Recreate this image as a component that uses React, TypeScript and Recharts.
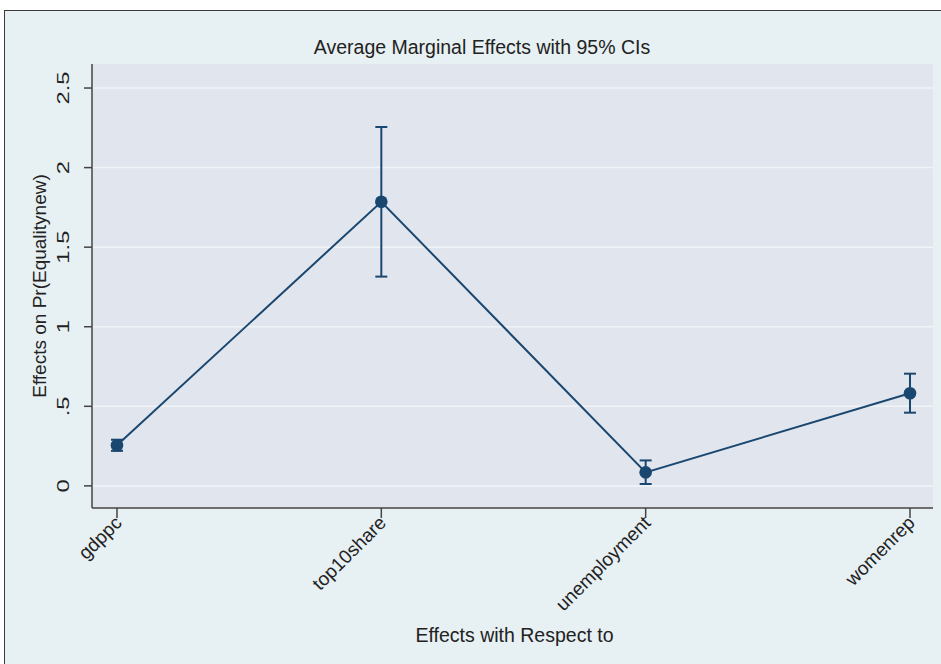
import { CartesianGrid, ComposedChart, ErrorBar, Line, XAxis, YAxis } from 'recharts';

const categories = ['gdppc', 'top10share', 'unemployment', 'womenrep'];
const estimates = [0.255, 1.785, 0.085, 0.582];
const ciLow = [0.22, 1.315, 0.012, 0.46];
const ciHigh = [0.29, 2.255, 0.16, 0.705];
const yTicks = [0, 0.5, 1, 1.5, 2, 2.5];
const yTickLabels = ['0', '.5', '1', '1.5', '2', '2.5'];

const data = categories.map((name, i) => ({
  x: i,
  name,
  est: estimates[i],
  err: [estimates[i] - ciLow[i], ciHigh[i] - estimates[i]],
}));

const NAVY = '#1a476f';
const FONT = 'Liberation Sans, Arial, sans-serif';

function YTick({ x, y, payload }: any) {
  const idx = yTicks.indexOf(payload.value);
  return (
    <g transform={`translate(${x - 13},${y})`}>
      <text transform="rotate(-90) scale(1.4,1)" textAnchor="middle" fontSize={17} fill="#222" fontFamily={FONT}>
        {yTickLabels[idx]}
      </text>
    </g>
  );
}

function XTick({ x, y, payload }: any) {
  return (
    <g transform={`translate(${x + 6},${y + 4})`}>
      <text transform="rotate(-45)" textAnchor="end" fontSize={19} fill="#222" fontFamily={FONT}>
        {categories[payload.value]}
      </text>
    </g>
  );
}

function YTitle({ viewBox }: any) {
  const cy = viewBox.y + viewBox.height / 2;
  return (
    <text
      transform={`translate(46,${cy}) rotate(-90)`}
      textAnchor="middle"
      fontSize={19}
      fill="#222"
      fontFamily={FONT}
    >
      Effects on Pr(Equalitynew)
    </text>
  );
}

export default function App() {
  return (
    <div style={{ position: 'absolute', left: 0, top: 0, width: 941, height: 664, overflow: 'hidden' }}>
      <div
        style={{
          position: 'absolute',
          left: 4,
          top: 10,
          width: 945,
          height: 670,
          background: '#e7f0f2',
          border: '1px solid #3a3a3a',
        }}
      />
      <div
        style={{
          position: 'absolute',
          left: 0,
          top: 36,
          width: 964,
          textAlign: 'center',
          fontFamily: FONT,
          fontSize: 19.5,
          color: '#222',
        }}
      >
        Average Marginal Effects with 95% CIs
      </div>
      <div style={{ position: 'absolute', left: 0, top: 0 }}>
        <ComposedChart width={941} height={664} data={data} margin={{ top: 64, right: 8, bottom: 0, left: 0 }}>
          <CartesianGrid vertical={false} stroke="#f1f4f7" strokeWidth={1.5} fill="#e1e5ee" horizontalValues={yTicks} />
          <XAxis
            type="number"
            dataKey="x"
            domain={[-0.0945, 3.087]}
            ticks={[0, 1, 2, 3]}
            allowDataOverflow
            height={156}
            tick={<XTick />}
            tickSize={10}
            tickMargin={2}
            stroke="#444"
            strokeWidth={1.5}
            label={{
              value: 'Effects with Respect to',
              position: 'insideBottom',
              offset: 22,
              fill: '#222',
              fontSize: 19.5,
              fontFamily: FONT,
              dx: 2,
            }}
          />
          <YAxis
            type="number"
            domain={[-0.139, 2.651]}
            ticks={yTicks}
            allowDataOverflow
            width={92}
            tick={<YTick />}
            tickSize={8}
            stroke="#444"
            strokeWidth={1.5}
            label={{ content: <YTitle /> }}
          />
          <Line
            dataKey="est"
            type="linear"
            stroke={NAVY}
            strokeWidth={2}
            dot={{ r: 6.3, fill: NAVY, stroke: NAVY, strokeWidth: 0 }}
            activeDot={false}
            isAnimationActive={false}
          >
            <ErrorBar dataKey="err" width={6} stroke={NAVY} strokeWidth={2} direction="y" />
          </Line>
        </ComposedChart>
      </div>
    </div>
  );
}
